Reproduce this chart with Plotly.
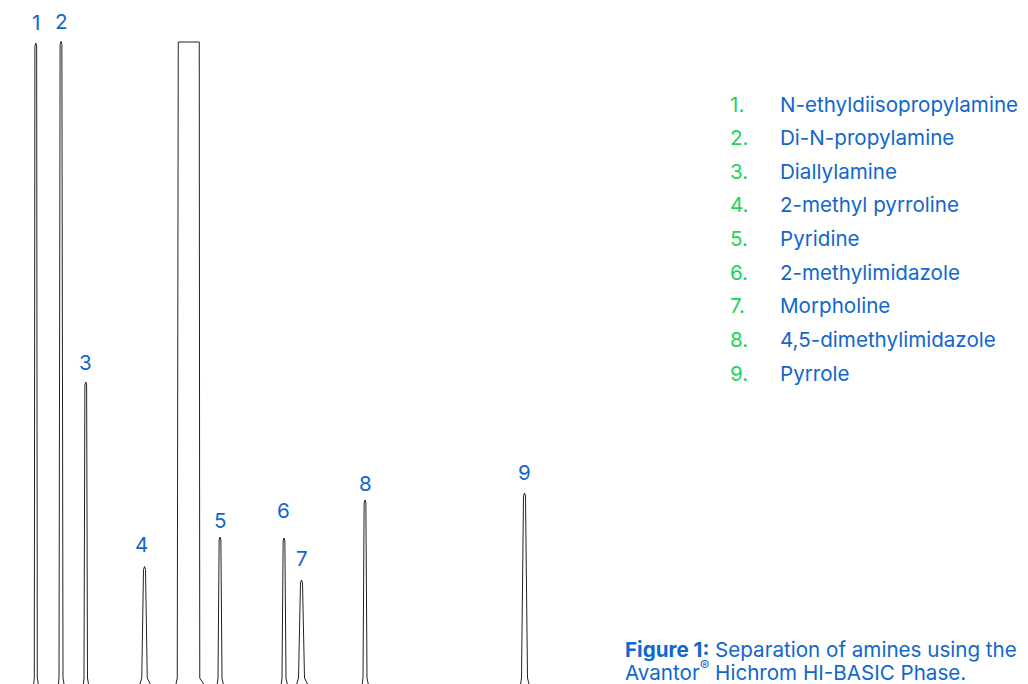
import plotly.graph_objects as go

# ---- data ----
peak_labels = ["1", "2", "3", "4", "5", "6", "7", "8", "9"]
compounds = [
    "N-ethyldiisopropylamine",
    "Di-N-propylamine",
    "Diallylamine",
    "2-methyl pyrroline",
    "Pyridine",
    "2-methylimidazole",
    "Morpholine",
    "4,5-dimethylimidazole",
    "Pyrrole",
]
retention_min = [0.716, 1.22, 1.715, 2.89, 4.40, 5.68, 6.03, 7.30, 10.49]   # apex time
peak_height = [64.7, 64.85, 30.8, 12.35, 15.3, 15.2, 11.0, 19.0, 19.7]      # apex signal
peak_width_min = [0.06, 0.08, 0.07, 0.11, 0.08, 0.08, 0.12, 0.08, 0.12]     # width near baseline
peak_tip_min = [0.035, 0.035, 0.035, 0.04, 0.035, 0.035, 0.04, 0.035, 0.04] # width just below apex
peak_foot_min = [0.04, 0.04, 0.04, 0.12, 0.05, 0.05, 0.12, 0.05, 0.06]      # tailing at baseline

solvent_start_min = 3.565
solvent_end_min = 3.985
solvent_height = 64.8     # detector saturation (flat top)

run_start_min = 0.16
run_end_min = 20.56
signal_min, signal_max = 0.6, 68.2
knee_signal = 1.2
tip_drop = 0.3

BLUE = "#1167cc"
GREEN = "#1fd35c"
LINE = "#222222"
FONT = "Inter"
FS = 20.6

# per-label nudges in screen pixels (styling only)
label_dx = [0, 0, 0, -3, 0, -1, 0, 0, 0]
label_dy = [0, 0, -1, 2, -4, 7, 1, -4, 0]

# page geometry (browser body keeps an 8px margin)
W, H, PAD = 1020, 676, 8


def px(x):
    return (x - PAD) / W


def py(y):
    return 1 - (y - PAD) / H


# ---- assemble the trace from the peak table ----
events = []
for rt, h, w, t, f in zip(retention_min, peak_height, peak_width_min,
                          peak_tip_min, peak_foot_min):
    events.append((rt, [
        (rt - w / 2 - f * 0.6, 0.0),
        (rt - w / 2, knee_signal),
        (rt - t / 2, h - tip_drop),
        (rt, h),
        (rt + t / 2, h - tip_drop),
        (rt + w / 2, knee_signal),
        (rt + w / 2 + f, 0.0),
    ]))
events.append((solvent_start_min, [
    (solvent_start_min - 0.07, 0.0),
    (solvent_start_min - 0.02, knee_signal),
    (solvent_start_min, solvent_height),
    (solvent_end_min, solvent_height),
    (solvent_end_min + 0.01, knee_signal),
    (solvent_end_min + 0.165, 0.0),
]))
events.sort(key=lambda e: e[0])

xs, ys = [0.0], [0.0]
for _, pts in events:
    for a, b in pts:
        xs.append(a)
        ys.append(b)
xs.append(run_end_min)
ys.append(0.0)

fig = go.Figure()
fig.add_trace(go.Scatter(x=xs, y=ys, mode="lines",
                         line=dict(color=LINE, width=1), hoverinfo="skip",
                         showlegend=False))

# peak number labels
for lab, rt, h, dx, dy in zip(peak_labels, retention_min, peak_height, label_dx, label_dy):
    fig.add_annotation(x=rt, y=h, text=lab, showarrow=False, xanchor="center",
                       yanchor="bottom", yshift=6 + dy, xshift=dx,
                       font=dict(family=FONT, size=FS, color=BLUE))

# compound key
for i, (lab, name) in enumerate(zip(peak_labels, compounds)):
    yy = py(104 + i * 33.65)
    fig.add_annotation(xref="paper", yref="paper", x=px(728), y=yy, text=lab + ".",
                       showarrow=False, xanchor="left", yanchor="middle",
                       font=dict(family=FONT, size=FS, color=GREEN))
    fig.add_annotation(xref="paper", yref="paper", x=px(778), y=yy, text=name,
                       showarrow=False, xanchor="left", yanchor="middle",
                       font=dict(family=FONT, size=FS, color=BLUE))

# caption (two tight lines)
caption_lines = ["<b>Figure 1:</b> Separation of amines using the",
                 "Avantor<sup>®</sup> Hichrom HI-BASIC Phase."]
for j, line in enumerate(caption_lines):
    fig.add_annotation(xref="paper", yref="paper", x=px(623), y=py(649 + j * 22),
                       text=line, showarrow=False, xanchor="left", yanchor="middle",
                       align="left", font=dict(family=FONT, size=FS, color=BLUE))

fig.update_layout(
    width=W, height=H,
    margin=dict(l=0, r=0, t=0, b=0),
    paper_bgcolor="white", plot_bgcolor="white",
    xaxis=dict(range=[run_start_min, run_end_min], visible=False, fixedrange=True),
    yaxis=dict(range=[signal_min, signal_max], visible=False, fixedrange=True),
)

fig.write_html("out.html")
